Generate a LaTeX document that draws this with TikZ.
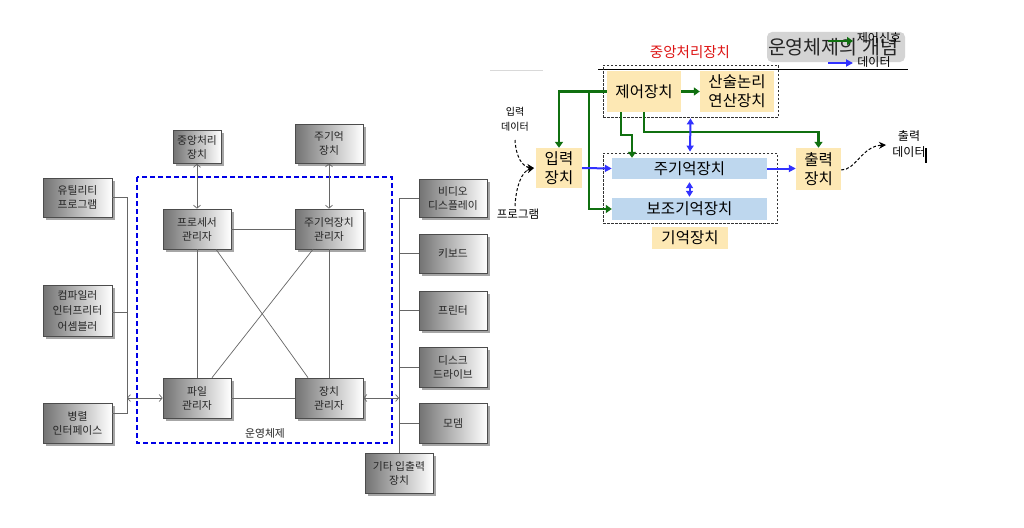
\documentclass[tikz,border=0pt]{standalone}
\usepackage{fontspec}
\setmainfont{Noto Sans CJK KR}
\usetikzlibrary{arrows.meta,shadows,calc}
\definecolor{gdark}{RGB}{16,112,16}
\definecolor{bblue}{RGB}{50,50,255}
\definecolor{obox}{RGB}{0,0,230}
\definecolor{ylw}{RGB}{253,232,180}
\definecolor{lblue}{RGB}{190,215,238}
\definecolor{hgray}{RGB}{212,212,212}
\definecolor{cpured}{RGB}{222,20,20}
\begin{document}
\begin{tikzpicture}[x=1pt,y=-1pt,
  sz/.style 2 args={minimum width=#1pt,minimum height=#2pt},
  gbox/.style={draw=black!70,line width=0.7pt,left color=black!55,right color=white,
    drop shadow={shadow xshift=2.5pt,shadow yshift=-2.5pt,opacity=0.35,fill=black},
    align=center,inner sep=0pt,font=\fontsize{10.8}{14}\selectfont,text=black!85},
  gln/.style={draw=black!60,line width=0.7pt},
  garr/.style={gln,{Straight Barb[length=3pt,width=7pt]}-{Straight Barb[length=3pt,width=7pt]}},
  ybox/.style={fill=ylw,inner sep=0pt,align=center,font=\fontsize{15.5}{19}\selectfont},
  bbox/.style={fill=lblue,inner sep=0pt,align=center,font=\fontsize{15.5}{19}\selectfont},
  dashbox/.style={draw=black!80,line width=0.8pt,dash pattern=on 2.5pt off 1.5pt,inner sep=0pt},
  garrow/.style={draw=gdark,line width=2.2pt,-{Triangle[length=6pt,width=8pt]}},
  barrow/.style={draw=bblue,line width=2pt,-{Triangle[length=7pt,width=7pt]}},
  bdarrow/.style={draw=bblue,line width=2pt,{Triangle[length=6pt,width=7pt]}-{Triangle[length=6pt,width=7pt]}},
  dcurve/.style={draw=black,line width=1pt,dash pattern=on 3pt off 2pt,-{Stealth[length=7pt,width=7pt]}},
  smalltxt/.style={inner sep=1pt,align=center}
]
\useasboundingbox (0,0) rectangle (1024,527);
\fill[white] (0,0) rectangle (1024,527);

% ---------------- left diagram ----------------
\draw[obox,line width=1.8pt,dash pattern=on 5pt off 3pt] (137,177) rectangle (392,443);
\node[font=\fontsize{10.8}{12}\selectfont,text=black!85] (oslbl) at (265,433) {운영체제};

\node[gbox,sz={48}{33}] (cpu) at (197,147) {중앙처리\\장치};
\node[gbox,sz={68}{39}] (mem) at (329,143.5) {주기억\\장치};
\node[gbox,sz={69}{39}] (util) at (77.5,197.5) {유틸리티\\프로그램};
\node[gbox,sz={69}{51},font=\fontsize{10.8}{15.5}\selectfont] (comp) at (77.5,310.5) {컴파일러\\인터프리터\\어셈블러};
\node[gbox,sz={69}{40}] (par) at (77.5,423) {병렬\\인터페이스};
\node[gbox,sz={68}{40}] (proc) at (197,229) {프로세서\\관리자};
\node[gbox,sz={68}{40}] (file) at (197,398) {파일\\관리자};
\node[gbox,sz={68}{40}] (mmgr) at (329,229) {주기억장치\\관리자};
\node[gbox,sz={68}{40}] (dmgr) at (329,398) {장치\\관리자};
\node[gbox,sz={68}{38}] (video) at (453,198) {비디오\\디스플레이};
\node[gbox,sz={68}{39}] (kbd) at (453,253.5) {키보드};
\node[gbox,sz={68}{39}] (prn) at (453,310.5) {프린터};
\node[gbox,sz={68}{40}] (disk) at (453,367) {디스크\\드라이브};
\node[gbox,sz={68}{40}] (modem) at (453,423) {모뎀};
\node[gbox,sz={68}{40}] (etc) at (399,473) {기타 입출력\\장치};

% internal links
\draw[gln] (proc.east) -- (mmgr.west);
\draw[gln] (file.east) -- (dmgr.west);
\draw[gln] (proc.south) -- (file.north);
\draw[gln] (mmgr.south) -- (dmgr.north);
\draw[gln] ($(proc.south)+(19,0)$) -- ($(dmgr.north)+(-21,0)$);
\draw[gln] ($(mmgr.south)+(-16,0)$) -- ($(file.north)+(15,0)$);
\draw[garr] (cpu.south) -- (proc.north);
\draw[garr] (mem.south) -- (mmgr.north);

% left bus
\coordinate (lt) at (127,197.5);
\coordinate (lb) at (127,413);
\draw[gln] (util.east) -- (lt) -- (lb) -- (lb -| par.east);
\draw[gln] ($(comp.east)+(0,2)$) -- ($(comp.east -| lt)+(0,2)$);
\draw[garr] (file.west -| lt) -- (file.west);

% right bus
\coordinate (rt) at (399,198);
\draw[gln] (video.west) -- (rt) -- (etc.north);
\draw[gln] (kbd.west) -- (kbd.west -| rt);
\draw[gln] (prn.west) -- (prn.west -| rt);
\draw[gln] (disk.west) -- (disk.west -| rt);
\draw[gln] (modem.west) -- (modem.west -| rt);
\draw[garr] (dmgr.east) -- (dmgr.east -| rt);

% ---------------- right diagram ----------------
\draw[black!15,line width=0.6pt] (490,70) -- (543,70);
\draw[black,line width=0.8pt] (598,69) -- (908,69);

\node[text=cpured,font=\fontsize{14.5}{16}\selectfont] (cputitle) at (690,52) {중앙처리장치};
\node[dashbox,sz={175}{52}] (cpubox) at (690.5,91) {};
\node[dashbox,sz={174}{70}] (membox) at (690,188) {};

\node[ybox,sz={74}{41}] (ctrl) at (644,91.5) {제어장치};
\node[ybox,sz={74}{41}] (alu) at (737,91.5) {산술논리\\연산장치};
\node[ybox,sz={46}{40}] (inp) at (559,168) {입력\\장치};
\node[bbox,sz={155}{21}] (main) at (689.5,168.5) {주기억장치};
\node[bbox,sz={155}{22}] (aux) at (689.5,209) {보조기억장치};
\node[ybox,sz={76}{22}] (memlbl) at (690,238) {기억장치};
\node[ybox,sz={45}{42}] (out) at (818.5,169) {출력\\장치};

% green control arrows
\draw[garrow] (ctrl.east) -- (alu.west);
\draw[garrow] (ctrl.west) -| (inp.north);
\coordinate (g2) at (589,91.5);
\draw[garrow] (g2) |- (aux.west);
\coordinate (g3a) at (621,112);
\coordinate (g3b) at (621,135);
\coordinate (g3c) at (632,135);
\draw[garrow] (g3a) -- (g3b) -- (g3c) -- (g3c |- main.north);
\coordinate (g4) at (644,132);
\draw[garrow] (ctrl.south) -- (g4) -| (out.north);

% blue data arrows
\draw[barrow] (inp.east) -- (main.west);
\draw[barrow] (main.east) -- (main.east -| out.west);
\draw[bdarrow] ([yshift=-1pt]cpubox.south) -- ([yshift=1pt]membox.north);
\draw[bdarrow] ([yshift=-3pt]main.south) -- ([yshift=1pt]aux.north);

% input / output data
\node[smalltxt,font=\fontsize{10}{15}\selectfont] (indata) at (515,119) {입력\\데이터};
\node[smalltxt,font=\fontsize{11.5}{13}\selectfont] (prog) at (518,214) {프로그램};
\coordinate (intip) at (534,168);
\coordinate (in1) at (515,140);
\coordinate (in2) at (515,206);
\draw[dcurve] (in1) .. controls (516,158) and (523,167) .. (intip);
\draw[dcurve] (in2) .. controls (516,186) and (522,171) .. (intip);

\node[smalltxt,font=\fontsize{12}{16}\selectfont] (outdata) at (909,144) {출력\\데이터};
\coordinate (outtip) at (886,145);
\draw[dcurve] ([yshift=-1pt]out.east) .. controls (856,170) and (862,146) .. (outtip);
\draw[black,line width=2pt] (926,148) -- (926,163);

% header legend
\node[fill=hgray,rounded corners=5pt,sz={138}{30},inner sep=0pt] (hdr) at (836,47) {};
\node[text=black!85,font=\fontsize{19.5}{21}\selectfont] (hdrtxt) at (833,47) {운영체제의 개념};
\coordinate (lg1) at (828,41);
\coordinate (lg2) at (853,41);
\draw[garrow,line width=2.5pt] (lg1) -- (lg2);
\node[font=\fontsize{12}{13}\selectfont,inner sep=0pt] (lgt1) at (879,38) {제어신호};
\coordinate (lb1) at (828,63);
\coordinate (lb2) at (853,63);
\draw[barrow,line width=2.5pt] (lb1) -- (lb2);
\node[font=\fontsize{12}{13}\selectfont,inner sep=0pt] (lgt2) at (874,62) {데이터};
\end{tikzpicture}
\end{document}
